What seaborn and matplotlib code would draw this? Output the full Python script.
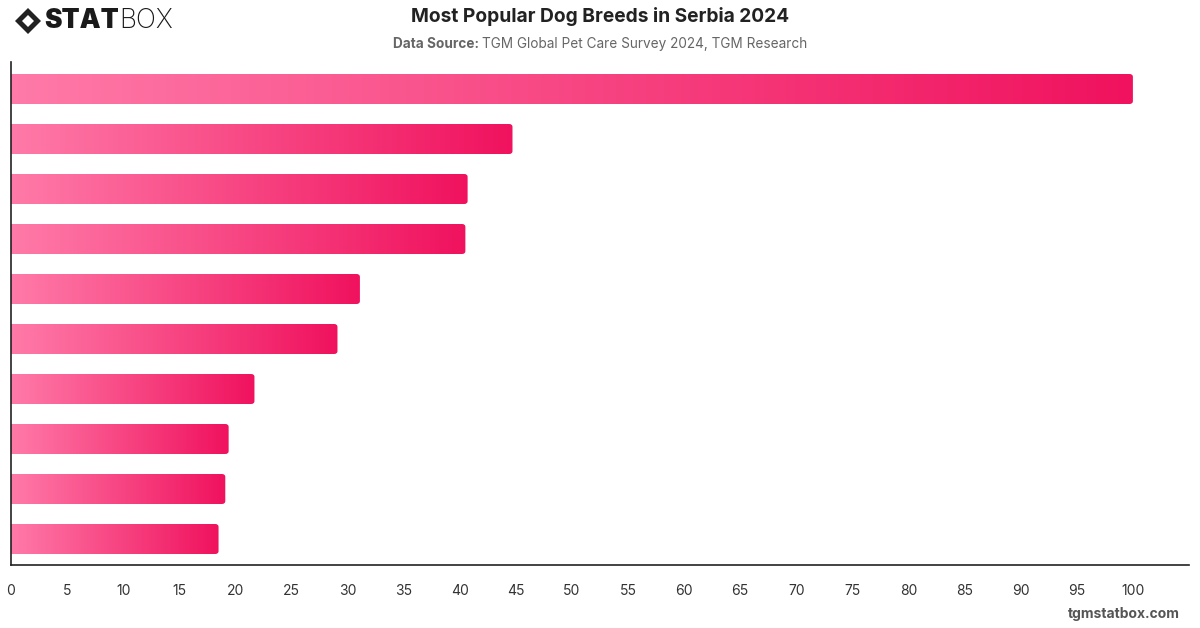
"""
Most Popular Dog Breeds in Serbia 2024 - horizontal gradient bar chart
"""

import matplotlib.pyplot as plt
import numpy as np
import pandas as pd
import seaborn as sns
from matplotlib.colors import LinearSegmentedColormap
from matplotlib.patches import FancyBboxPatch, Polygon

# breed names are not shown on the chart, only their rank
breeds = ["#1", "#2", "#3", "#4", "#5", "#6", "#7", "#8", "#9", "#10"]
scores = [100, 44.7, 40.7, 40.5, 31.1, 29.1, 21.7, 19.4, 19.1, 18.5]
x_ticks = list(range(0, 105, 5))

title = "Most Popular Dog Breeds in Serbia 2024"
source = "TGM Global Pet Care Survey 2024, TGM Research"

df = pd.DataFrame({"breed": breeds, "score": scores})

sns.set_style("white")
plt.rcParams["font.family"] = ["Inter", "DejaVu Sans"]

fig = plt.figure(figsize=(12, 6.28), dpi=100)
ax = fig.add_axes([11 / 1200, 1 - 565 / 628, 1178 / 1200, 503 / 628])

sns.barplot(data=df, x="score", y="breed", orient="h", width=0.6,
            color="#f5286e", ax=ax)

ax.set_xlim(0, 105)
ax.set_ylim(len(breeds) - 0.48, -0.54)

# swap each flat bar for a left-to-right pink gradient with rounded ends
cmap = LinearSegmentedColormap.from_list("pinks", ["#ff7aa8", "#f0125e"])
grad = np.linspace(0, 1, 256).reshape(1, -1)
for bar in list(ax.patches):
    x0, y0 = bar.get_x(), bar.get_y()
    w, h = bar.get_width(), bar.get_height()
    bar.set_visible(False)
    clip = FancyBboxPatch((x0 - 2, y0), w + 2, h,
                          boxstyle="round,pad=0,rounding_size=0.3",
                          mutation_aspect=0.2, transform=ax.transData,
                          facecolor="none", edgecolor="none")
    ax.add_patch(clip)
    img = ax.imshow(grad, extent=(x0, x0 + w, y0 + h, y0), cmap=cmap,
                    aspect="auto", interpolation="bicubic", zorder=2)
    img.set_clip_path(clip)

ax.set_xlim(0, 105)
ax.set_ylim(len(breeds) - 0.48, -0.54)
ax.set_xticks(x_ticks)
ax.set_xticklabels([str(t) for t in x_ticks], fontsize=10, color="#333333")
ax.tick_params(axis="x", length=0, pad=14)
for lbl in ax.get_xticklabels():
    lbl.set_x(lbl.get_position()[0])
ax.set_yticks([])
ax.set_xlabel("")
ax.set_ylabel("")
for side in ["top", "right"]:
    ax.spines[side].set_visible(False)
for side in ["left", "bottom"]:
    ax.spines[side].set_color("#222222")
    ax.spines[side].set_linewidth(1.2)

# header
fig.text(0.5, 1 - 17 / 628, title, ha="center", va="center",
         fontsize=13.8, fontweight="bold", color="#222222")
t1 = fig.text(0.5, 1 - 44 / 628, "Data Source: ", ha="right", va="center",
              fontsize=9.8, fontweight="bold", color="#666666")
t2 = fig.text(0.5, 1 - 44 / 628, source, ha="left", va="center",
              fontsize=9.8, color="#666666")
# shift the two source parts so the pair is centered
fig.canvas.draw()
r = fig.canvas.get_renderer()
w1 = t1.get_window_extent(r).width
w2 = t2.get_window_extent(r).width
shift = (w1 - w2) / 2 / 1200
t1.set_x(0.5 + shift)
t2.set_x(0.5 + shift)

# logo
logo = Polygon([[15, 628 - 21], [28, 628 - 8], [41, 628 - 21], [28, 628 - 34]],
               closed=True, transform=None, facecolor="#222222", edgecolor="none")
inner = Polygon([[22, 628 - 21], [28, 628 - 15], [34, 628 - 21], [28, 628 - 27]],
                closed=True, transform=None, facecolor="white", edgecolor="none")
fig.patches.extend([logo, inner])
ts = fig.text(44 / 1200, 1 - 21 / 628, "STAT", ha="left", va="center",
              fontsize=19, fontweight=900, color="#1a1a1a")
fig.canvas.draw()
ws = ts.get_window_extent(r).width
fig.text((44 + ws) / 1200, 1 - 21 / 628, "BOX", ha="left", va="center",
         fontsize=19, fontweight="light", color="#1a1a1a")

fig.text(1180 / 1200, 1 - 614 / 628, "tgmstatbox.com", ha="right",
         va="center", fontsize=10, fontweight="bold", color="#555555")

fig.savefig("out.png", dpi=100)
